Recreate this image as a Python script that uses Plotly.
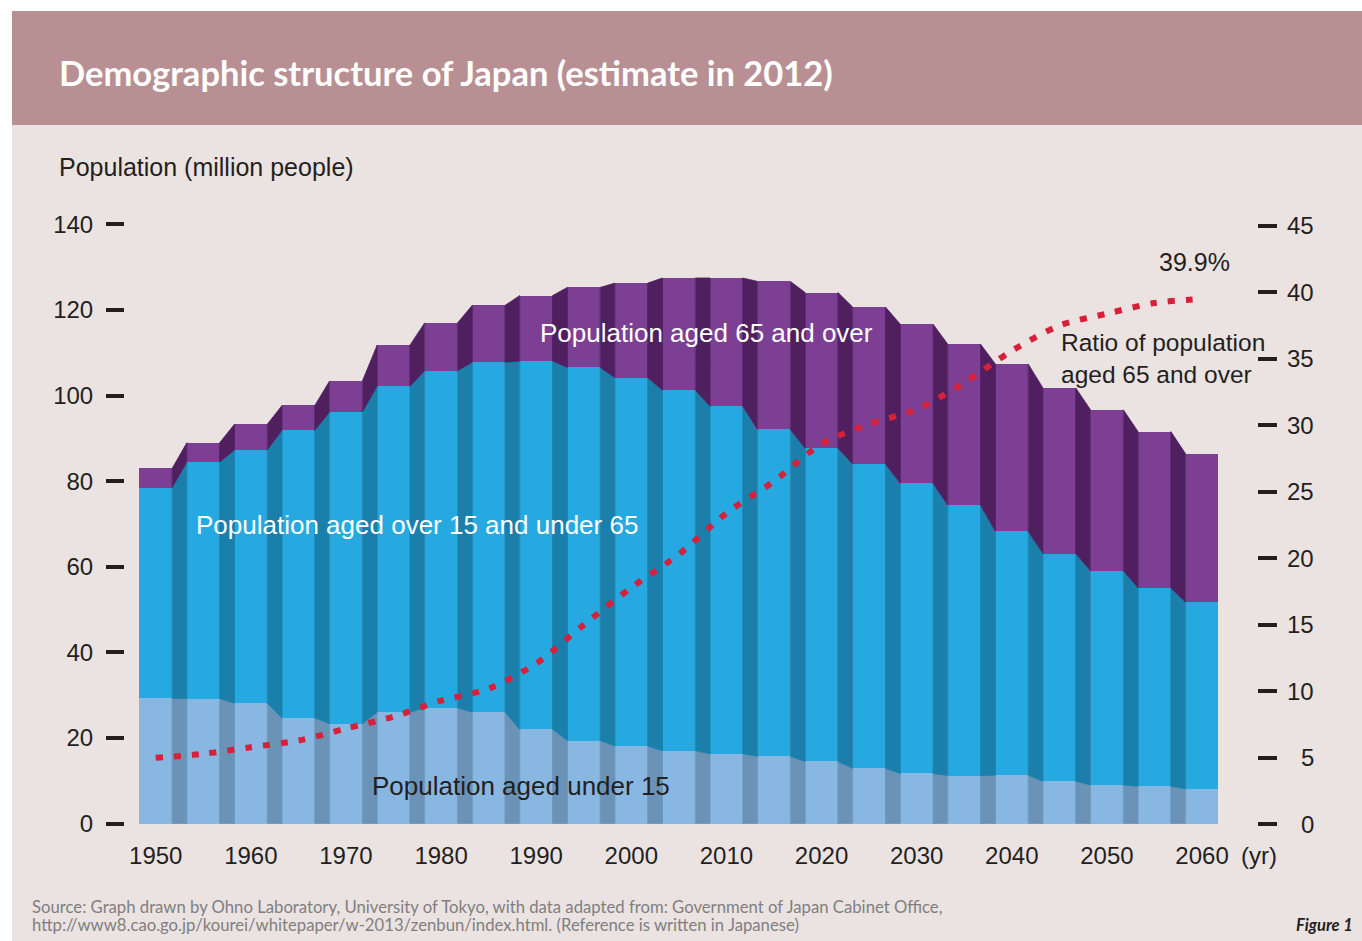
import plotly.graph_objects as go

# ---------------- data ----------------
years = list(range(1950, 2061, 5))
year_tick_vals = list(range(1950, 2061, 10))
year_tick_text = [str(y) for y in year_tick_vals]

under15 = [29.3, 29.2, 28.1, 24.7, 23.3, 26.0, 27.0, 26.0, 22.0, 19.4, 18.1, 17.0,
           16.3, 15.7, 14.5, 12.9, 11.7, 11.2, 11.3, 9.9, 9.0, 8.7, 8.1]
age15_64 = [49.2, 55.3, 59.2, 67.2, 72.9, 76.2, 78.8, 81.8, 86.1, 87.2, 86.1, 84.3,
            81.2, 76.4, 73.2, 71.1, 67.8, 63.2, 57.0, 53.2, 50.1, 46.4, 43.6]
over65 = [4.5, 4.5, 6.0, 5.8, 7.2, 9.6, 11.2, 13.3, 15.3, 18.7, 22.1, 26.2,
          30.0, 34.6, 36.4, 36.7, 37.2, 37.6, 39.1, 38.7, 37.6, 36.5, 34.7]
ratio65 = [5.0, 5.3, 5.8, 6.3, 7.2, 8.1, 9.3, 10.2, 12.1, 15.0, 17.8, 20.3,
           23.4, 25.8, 28.6, 30.1, 31.2, 33.2, 35.6, 37.5, 38.4, 39.2, 39.5]

left_ticks = [0, 20, 40, 60, 80, 100, 120, 140]
right_ticks = [0, 5, 10, 15, 20, 25, 30, 35, 40, 45]

# ---------------- styling ----------------
FIG_W, FIG_H = 1362, 941
L, R, T, B = 125, 1257, 220, 825          # plot area in pixels
TXT = "#231f20"
SANS = "Liberation Sans, Arial, Helvetica, sans-serif"
LATO = "Lato, Liberation Sans, sans-serif"

FRONT = ["#88b7e2", "#25a9e0", "#7d3f94"]
SIDE = ["#6a93b7", "#1b7fab", "#4f1f5f"]
BAR_W = 3.45
H = BAR_W / 2


def px_x(p):
    """pixel x -> paper fraction"""
    return (p - L) / (R - L)


def px_y(p):
    """pixel y -> paper fraction"""
    return (B - p) / (B - T)


fig = go.Figure()

n = len(years)
lo = [0.0] * n
for vals, fc, sc in zip([under15, age15_64, over65], FRONT, SIDE):
    hi = [a + b for a, b in zip(lo, vals)]
    fig.add_trace(go.Bar(x=years, y=vals, width=BAR_W,
                         marker=dict(color=fc, line=dict(width=0)),
                         hoverinfo="skip", showlegend=False))
    xs, ys = [], []
    for i in range(n - 1):
        xs += [years[i] + H, years[i] + H, years[i + 1] - H, years[i + 1] - H, years[i] + H, None]
        ys += [lo[i], hi[i], hi[i + 1], lo[i + 1], lo[i], None]
    fig.add_trace(go.Scatter(x=xs, y=ys, mode="lines", fill="toself", fillcolor=sc,
                             line=dict(width=0.8, color=sc), hoverinfo="skip",
                             showlegend=False))
    lo = hi

fig.add_trace(go.Scatter(x=years, y=ratio65, yaxis="y2", mode="lines",
                         line=dict(color="#d7213b", width=6, dash="7px,11px",
                                   shape="spline", smoothing=0.8),
                         hoverinfo="skip", showlegend=False))

shapes = [
    dict(type="rect", xref="paper", yref="paper", x0=px_x(12), x1=px_x(1375),
         y0=px_y(125), y1=px_y(960), fillcolor="#ebe3e2", line=dict(width=0), layer="below"),
    dict(type="rect", xref="paper", yref="paper", x0=px_x(12), x1=px_x(1375),
         y0=px_y(125), y1=px_y(11), fillcolor="#b89094", line=dict(width=0), layer="below"),
]


def txt(text, x, y, size, color=TXT, family=SANS, xanchor="left", yref="paper", xref="paper"):
    return dict(text=text, xref=xref, yref=yref, x=x, y=y, xanchor=xanchor,
                yanchor="middle", showarrow=False, align="left",
                font=dict(family=family, size=size, color=color))


ann = []
ann.append(txt("<b>Demographic structure of Japan (estimate in 2012)</b>",
               px_x(57), px_y(72), 34.5, color="white", family=LATO))
ann.append(txt("Population (million people)", px_x(57), px_y(167), 25))
for v in right_ticks:
    ann.append(txt(str(v), px_x(1316), v, 24, xanchor="right", yref="y2"))
ann.append(txt("(yr)", px_x(1239), px_y(855), 24))
ann.append(txt("Population aged 65 and over", px_x(706), px_y(333), 26,
               color="white", xanchor="center"))
ann.append(txt("Population aged over 15 and under 65", px_x(417), px_y(525), 26,
               color="white", xanchor="center"))
ann.append(txt("Population aged under 15", px_x(521), px_y(786), 26, xanchor="center"))
ann.append(txt("39.9%", px_x(1194), px_y(262), 25, xanchor="center"))
ann.append(txt("Ratio of population<br>aged 65 and over", px_x(1059), px_y(358), 24.5))
ann.append(txt("Source: Graph drawn by Ohno Laboratory, University of Tokyo, with data adapted from: Government of Japan Cabinet Office,",
               px_x(30), px_y(907), 16.7, color="#7f7f7f", family=LATO))
ann.append(txt("http://www8.cao.go.jp/kourei/whitepaper/w-2013/zenbun/index.html. (Reference is written in Japanese)",
               px_x(30), px_y(925), 16.7, color="#7f7f7f", family=LATO))
ann.append(txt("<b><i>Figure 1</i></b>", px_x(1355), px_y(925), 16.5,
               family=LATO, xanchor="right"))

fig.update_layout(
    width=FIG_W, height=FIG_H, autosize=False,
    margin=dict(l=L, r=FIG_W - R, t=T, b=FIG_H - B, pad=0),
    paper_bgcolor="white", plot_bgcolor="rgba(0,0,0,0)",
    barmode="stack", bargap=0, showlegend=False,
    xaxis=dict(range=[1946.77, 2065.78], tickvals=year_tick_vals, ticktext=year_tick_text,
               showgrid=False, zeroline=False, showline=False, ticks="",
               tickfont=dict(family=SANS, size=24, color=TXT), ticklabelstandoff=14,
               fixedrange=True),
    yaxis=dict(range=[-0.35, 141.05], tickvals=left_ticks, ticks="outside", ticklen=18,
               tickwidth=3.5, tickcolor=TXT, showgrid=False, zeroline=False, showline=False,
               tickfont=dict(family=SANS, size=24, color=TXT), ticklabelstandoff=8,
               fixedrange=True),
    yaxis2=dict(range=[-0.05, 45.44], overlaying="y", side="right", tickvals=right_ticks,
                ticks="outside", ticklen=19, tickwidth=3.5, tickcolor=TXT,
                showticklabels=False, showgrid=False, zeroline=False, showline=False,
                fixedrange=True),
    shapes=shapes, annotations=ann,
)

fig.write_html("out.html", config={"displayModeBar": False},
               post_script="document.body.style.margin='0';document.body.style.overflow='hidden';")
